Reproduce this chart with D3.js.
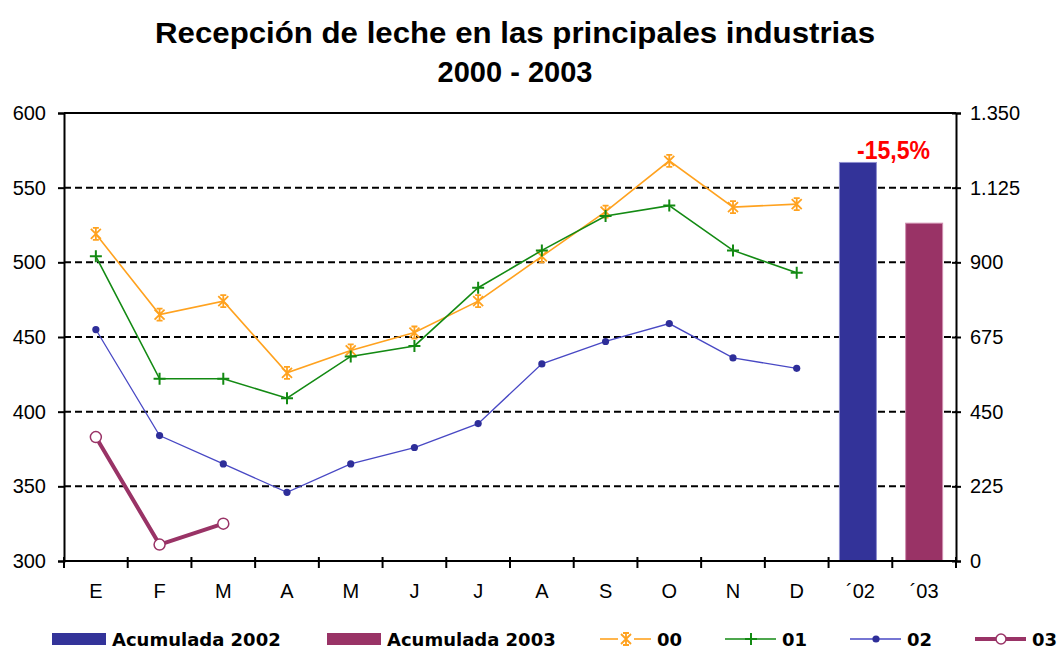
<!DOCTYPE html>
<html>
<head>
<meta charset="utf-8">
<script src="https://cdn.jsdelivr.net/npm/d3@7"></script>
<style>
  html, body { margin: 0; padding: 0; background: #fff; }
  svg { display: block; }
</style>
</head>
<body>
<svg id="chart" width="1057" height="649"></svg>
<script>
// ---- data ----
const categories = ["E","F","M","A","M","J","J","A","S","O","N","D","´02","´03"];
const s00 = [519,465,474,426,441,453,474,504,534,568,537,539];
const s01 = [504,422,422,409,437,444,483,508,531,538,508,493];
const s02 = [455,384,365,346,365,376,392,432,447,459,436,429];
const s03 = [383,311,325];
const accumLabels = ["Acumulada 2002","Acumulada 2003"];
const accumValues = [1201,1018];
const leftTicks = [300,350,400,450,500,550,600];
const rightTicks = [0,225,450,675,900,1125,1350];
const changeLabel = "-15,5%";
const titleLines = ["Recepción de leche en las principales industrias","2000 - 2003"];

// ---- layout ----
const svg = d3.select("#chart");
const L = 64, R = 956, T = 113, B = 561;
const x = d3.scaleBand().domain(d3.range(categories.length)).range([L, R]).padding(0);
const yL = d3.scaleLinear().domain([300,600]).range([B, T]);
const yR = d3.scaleLinear().domain([0,1350]).range([B, T]);
const cx = i => x(i) + x.bandwidth()/2;
const loc = d3.formatLocale({decimal:",", thousands:".", grouping:[3], currency:["",""]});
const fmtR = loc.format(",");

const colors = {
  b02: "#333399", b03: "#993366",
  c00: "#FFA21F", c01: "#138A13", c02: "#4848C4", c02m: "#2E2E99", c03: "#993366"
};

// title
svg.append("g").selectAll("text").data(titleLines).join("text")
  .attr("x", 515).attr("y", (d,i) => 43 + i*39)
  .attr("text-anchor","middle")
  .attr("font-family","Liberation Sans, Arial, sans-serif")
  .attr("font-weight","bold").attr("font-size", 29)
  .each(function(d,i){ if (i===0) d3.select(this).attr("textLength", 720).attr("lengthAdjust","spacingAndGlyphs"); })
  .text(d => d);

// gridlines
svg.append("g").selectAll("line").data(leftTicks.filter(v => v>300 && v<600)).join("line")
  .attr("x1", L).attr("x2", R).attr("y1", d => yL(d)).attr("y2", d => yL(d))
  .attr("stroke","#000").attr("stroke-width",2).attr("stroke-dasharray","7,4");

// bars
svg.append("g").selectAll("rect").data(accumValues).join("rect")
  .attr("x", (d,i) => cx(12+i) - 18.5 - (i===0 ? 2.5 : 0))
  .attr("width", 37)
  .attr("y", d => yR(d))
  .attr("height", d => B - yR(d))
  .attr("fill", (d,i) => i===0 ? colors.b02 : colors.b03)
  .attr("stroke", (d,i) => i===0 ? "#8f8fd0" : "#d08fb0").attr("stroke-width", 1);

// change label
svg.append("text")
  .attr("x", 893.5).attr("y", 159)
  .attr("text-anchor","middle")
  .attr("font-family","Liberation Sans, Arial, sans-serif")
  .attr("font-weight","bold").attr("font-size", 25)
  .attr("fill","#FF0000")
  .attr("textLength", 73).attr("lengthAdjust","spacingAndGlyphs")
  .text(changeLabel);

// top border
svg.append("line").attr("x1", L).attr("x2", R).attr("y1", T).attr("y2", T)
  .attr("stroke","#000").attr("stroke-width",2);

// axes
const axisFont = g => g.selectAll("text")
  .attr("font-family","Liberation Sans, Arial, sans-serif").attr("font-size", 20).attr("fill","#000");

const gL = svg.append("g").attr("transform", `translate(${L},0)`)
  .call(d3.axisLeft(yL).tickValues(leftTicks).tickSize(6).tickPadding(12));
gL.call(axisFont);
gL.select(".domain").attr("stroke-width",2);
gL.selectAll(".tick line").attr("stroke-width",2);

const gR = svg.append("g").attr("transform", `translate(${R},0)`)
  .call(d3.axisRight(yR).tickValues(rightTicks).tickFormat(fmtR).tickSize(5).tickPadding(9));
gR.call(axisFont);
gR.select(".domain").attr("stroke-width",2);
gR.selectAll(".tick line").attr("x1",-4).attr("stroke-width",2);

// bottom axis: labels at centers, ticks at boundaries
const gB = svg.append("g").attr("transform", `translate(0,${B})`)
  .call(d3.axisBottom(x).tickFormat(i => categories[i]).tickSize(0).tickPadding(23));
gB.call(axisFont);
gB.select(".domain").attr("stroke-width",2).attr("d", `M${L},0H${R}`);
svg.append("g").selectAll("line").data(d3.range(categories.length+1)).join("line")
  .attr("x1", i => L + i*x.bandwidth()).attr("x2", i => L + i*x.bandwidth())
  .attr("y1", B-4).attr("y2", B+7)
  .attr("stroke","#000").attr("stroke-width",2);

// ---- lines ----
const line = d3.line().x((d,i) => cx(i)).y(d => yL(d));

const starPath = "M-5,-5L5,5M-5,5L5,-5M0,-6L0,6M-3,-6L3,-6M-3,6L3,6";
const plusPath = "M-6,0L6,0M0,-6L0,6";

function drawStar(g, px, py, c) {
  g.append("path").attr("d", starPath).attr("transform", `translate(${px},${py})`)
    .attr("stroke", c).attr("stroke-width", 1.8).attr("fill","none");
}
function drawPlus(g, px, py, c) {
  g.append("path").attr("d", plusPath).attr("transform", `translate(${px},${py})`)
    .attr("stroke", c).attr("stroke-width", 2).attr("fill","none");
}

// 00
const g00 = svg.append("g");
g00.append("path").datum(s00).attr("d", line).attr("fill","none")
  .attr("stroke", colors.c00).attr("stroke-width",1.6);
s00.forEach((v,i) => drawStar(g00, cx(i), yL(v), colors.c00));

// 01
const g01 = svg.append("g");
g01.append("path").datum(s01).attr("d", line).attr("fill","none")
  .attr("stroke", colors.c01).attr("stroke-width",1.6);
s01.forEach((v,i) => drawPlus(g01, cx(i), yL(v), colors.c01));

// 02
const g02 = svg.append("g");
g02.append("path").datum(s02).attr("d", line).attr("fill","none")
  .attr("stroke", colors.c02).attr("stroke-width",1.3);
g02.selectAll("circle").data(s02).join("circle")
  .attr("cx", (d,i) => cx(i)).attr("cy", d => yL(d)).attr("r", 3.6)
  .attr("fill", colors.c02m);

// 03
const g03 = svg.append("g");
g03.append("path").datum(s03).attr("d", line).attr("fill","none")
  .attr("stroke", colors.c03).attr("stroke-width",4);
g03.selectAll("circle").data(s03).join("circle")
  .attr("cx", (d,i) => cx(i)).attr("cy", d => yL(d)).attr("r", 5.5)
  .attr("fill","#fff").attr("stroke", colors.c03).attr("stroke-width",1.5);

// ---- legend ----
const lg = svg.append("g");
const ly = 639;
const legFont = sel => sel.attr("font-family","DejaVu Sans, sans-serif")
  .attr("font-weight","bold").attr("font-size",18).attr("fill","#000");

[[52, colors.b02, accumLabels[0]], [327, colors.b03, accumLabels[1]]].forEach(([lx,c,t]) => {
  lg.append("rect").attr("x", lx).attr("y", ly-6).attr("width", 54).attr("height", 12).attr("fill", c);
  lg.append("text").attr("x", lx+60).attr("y", ly+6.5).call(legFont).text(t);
});

const legLines = [
  {x:600, c:colors.c00, w:1.6, label:"00", m:"star"},
  {x:725, c:colors.c01, w:1.6, label:"01", m:"plus"},
  {x:850, c:colors.c02, w:1.3, label:"02", m:"dot"},
  {x:975, c:colors.c03, w:4, label:"03", m:"ring"}
];
legLines.forEach(d => {
  const mx = d.x + 26;
  if (d.m === "star") {
    lg.append("line").attr("x1", d.x).attr("x2", d.x+18).attr("y1", ly).attr("y2", ly).attr("stroke", d.c).attr("stroke-width", d.w);
    lg.append("line").attr("x1", d.x+34).attr("x2", d.x+51).attr("y1", ly).attr("y2", ly).attr("stroke", d.c).attr("stroke-width", d.w);
    drawStar(lg, mx, ly, d.c);
  } else {
    lg.append("line").attr("x1", d.x).attr("x2", d.x+51).attr("y1", ly).attr("y2", ly).attr("stroke", d.c).attr("stroke-width", d.w);
    if (d.m === "plus") drawPlus(lg, mx, ly, d.c);
    if (d.m === "dot") lg.append("circle").attr("cx", mx).attr("cy", ly).attr("r", 3.6).attr("fill", colors.c02m);
    if (d.m === "ring") lg.append("circle").attr("cx", mx).attr("cy", ly).attr("r", 5).attr("fill","#fff").attr("stroke", d.c).attr("stroke-width",1.5);
  }
  lg.append("text").attr("x", d.x+57).attr("y", ly+6.5).call(legFont).text(d.label);
});
</script>
</body>
</html>
